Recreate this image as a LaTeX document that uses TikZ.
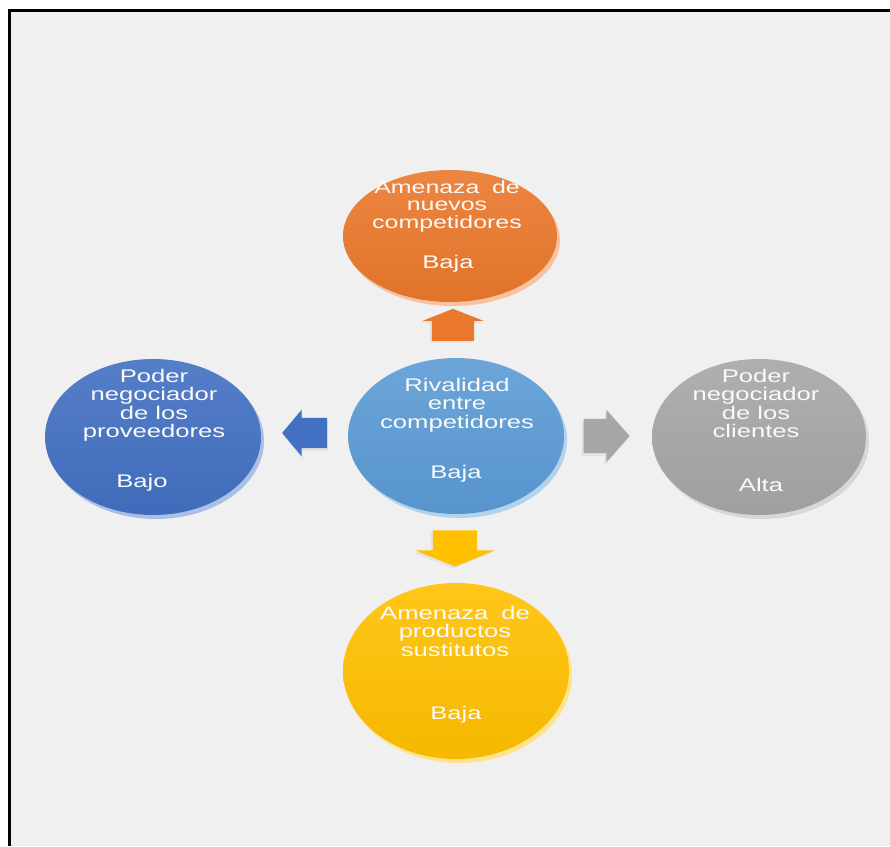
\documentclass[tikz,border=0pt]{standalone}
\usepackage{fontspec}
\setmainfont{Liberation Sans}
\usepackage{graphicx}
\usetikzlibrary{positioning, shapes.geometric, shapes.arrows, calc}

\definecolor{orgC}{HTML}{EA782C}
\definecolor{ltbC}{HTML}{5B9BD5}
\definecolor{dkbC}{HTML}{4270C2}
\definecolor{gryC}{HTML}{A6A6A6}
\definecolor{ylwC}{HTML}{FFC000}
\definecolor{bgC}{HTML}{F0F0F0}

\newcommand{\disclines}[1]{\scalebox{1.4}[1]{\begin{tabular}{@{}c@{}}#1\end{tabular}}}

\begin{document}
\begin{tikzpicture}[x=1pt, y=-1pt,
      disc/.style={ellipse, inner sep=0, top color=#1!90!white, bottom color=#1!96!black},
      rim/.style={ellipse, inner sep=0, fill=#1!45!white},
      disctxt/.style={inner sep=0, text=white!96!gray, font=\fontsize{18.3}{17.8}\selectfont},
      barrow/.style={single arrow, inner xsep=0, fill=#1},
      arrim/.style={single arrow, inner xsep=0, fill=white!78!gray}]
      \useasboundingbox (0,0) rectangle (890,846);
      \fill[bgC] (9.5,10.5) rectangle (890,846);
      \draw[line width=3.5] (9.5,846) -- (9.5,10.5) -- (890,10.5);
      % discs
      \node[rim=orgC, minimum width=214, minimum height=132] (nuevosR) at (453,240) {};
      \node[disc=orgC, minimum width=214, minimum height=132] (nuevos) at (450,236) {};
      \node[rim=ltbC, minimum width=216, minimum height=156] (rivalR) at (459,440) {};
      \node[disc=ltbC, minimum width=216, minimum height=156] (rival) at (456,436) {};
      \node[rim=dkbC, minimum width=216, minimum height=156] (provR) at (156,441) {};
      \node[disc=dkbC, minimum width=216, minimum height=156] (prov) at (153,437) {};
      \node[rim=gryC, minimum width=214, minimum height=156] (clientR) at (762,441) {};
      \node[disc=gryC, minimum width=214, minimum height=156] (client) at (759,437) {};
      \node[rim=ylwC, minimum width=226, minimum height=176] (sustR) at (459,675) {};
      \node[disc=ylwC, minimum width=226, minimum height=176] (sust) at (456,671) {};
      % texts
      \node[disctxt, font=\fontsize{17.8}{16.6}\selectfont] (nuevosT) at (447,207) {\disclines{Amenaza\hspace{0.5em}de\\nuevos\\competidores}};
      \node[disctxt] (nuevosV) at (448,265) {\disclines{Baja}};
      \node[disctxt] (rivalT) at (457,406) {\disclines{Rivalidad\\entre\\competidores}};
      \node[disctxt] (rivalV) at (456,475) {\disclines{Baja}};
      \node[disctxt] (provT) at (154,406) {\disclines{Poder\\negociador\\de los\\proveedores}};
      \node[disctxt] (provV) at (142,484) {\disclines{Bajo}};
      \node[disctxt] (clientT) at (756,406) {\disclines{Poder\\negociador\\de los\\clientes}};
      \node[disctxt] (clientV) at (761,488) {\disclines{Alta}};
      \node[disctxt] (sustT) at (455,634) {\disclines{Amenaza\hspace{0.5em}de\\productos\\sustitutos}};
      \node[disctxt] (sustV) at (456,716) {\disclines{Baja}};
      % arrows
      \node[arrim, rotate=90, inner ysep=21, minimum height=32, single arrow head extend=9.5, single arrow tip angle=137] (upArrR) at (451,331) {};
      \node[barrow=orgC, rotate=90, inner ysep=21, minimum height=32, single arrow head extend=9.5, single arrow tip angle=137] (upArr) at (453,329) {};
      \node[arrim, rotate=180, inner ysep=15, minimum height=45, single arrow head extend=8, single arrow tip angle=100] (leftArrR) at (312,436) {};
      \node[barrow=dkbC, rotate=180, inner ysep=15, minimum height=45, single arrow head extend=8, single arrow tip angle=100] (leftArr) at (311,433) {};
      \node[arrim, inner ysep=17, minimum height=46, single arrow head extend=9, single arrow tip angle=97] (rightArrR) at (597,439) {};
      \node[barrow=gryC, inner ysep=17, minimum height=46, single arrow head extend=9, single arrow tip angle=97] (rightArr) at (599,436) {};
      \node[arrim, rotate=-90, inner ysep=22, minimum height=36, single arrow head extend=18, single arrow tip angle=136] (downArrR) at (453,546) {};
      \node[barrow=ylwC, rotate=-90, inner ysep=22, minimum height=36, single arrow head extend=18, single arrow tip angle=136] (downArr) at (455,544) {};
    \end{tikzpicture}
\end{document}
